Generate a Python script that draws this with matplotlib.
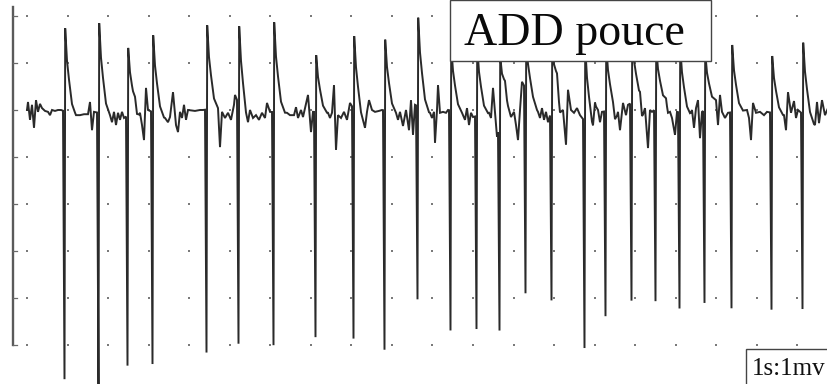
import numpy as np
import matplotlib
matplotlib.use("Agg")
import matplotlib.pyplot as plt
from matplotlib.patches import Rectangle

# ---- data (time in ms, amplitude in mV) ----
spike_t = [37, 71, 100, 125, 179, 211, 246, 288, 326, 357, 390, 423, 449,
           472, 498, 524, 557, 578, 604, 628, 652, 677, 704, 744, 775]
spike_peak = [1.77, 1.91, 1.43, 1.64, 1.79, 1.68, 1.91, 1.21, 1.57, 1.51,
              1.89, 1.38, 1.50, 1.40, 1.00, 1.30, 1.60, 1.40, 1.40, 1.30,
              1.40, 1.20, 1.43, 1.21, 1.53]
spike_trough = [-5.70, -5.85, -5.32, -5.36, -5.17, -5.11, -4.96, -4.79, -4.89,
                -5.09, -4.11, -4.68, -4.53, -4.36, -4.36, -4.04, -4.83, -4.36,
                -4.21, -4.09, -4.17, -4.11, -4.17, -4.19, -4.15]
# spike waveform shape: time offsets (ms) for start, trough, peak, tail points;
# tail as fraction of peak
shape_dt = [-1.0, 0.5, 1.2, 3.0, 5.0, 8.0, 12.0]
shape_tail = [0.62, 0.40, 0.12, 0.0]

noise_t = [0, 1, 3, 5, 7, 9, 11, 13, 15, 18, 21, 23, 25, 28, 31, 34,
           48, 53, 57, 61, 63, 65, 67,
           83, 85, 87, 89, 91, 93, 95, 97,
           106, 108, 110, 113, 115, 117, 119, 121,
           138, 141, 143, 146, 149, 151, 153, 155, 157, 159, 161, 168, 173, 176,
           191, 193, 195, 198, 201, 204, 207, 208,
           221, 223, 226, 229, 232, 235, 238, 240, 243,
           260, 263, 267, 269, 271, 274, 276, 279, 281, 284, 286,
           301, 303, 305, 307, 309, 311, 314, 317, 320, 323,
           338, 340, 342, 345, 348, 352, 355,
           369, 371, 373, 376, 379, 382, 384, 386, 388,
           403, 405, 407, 408, 410, 411, 413, 416, 419, 421,
           435, 438, 440, 442, 444, 446,
           462, 464, 466, 468, 470,
           478, 481, 484, 487, 489, 491, 493, 495,
           511, 513, 515, 517, 519, 521,
           530, 533, 536, 539, 541, 544, 547, 550, 553,
           566, 568, 571, 573, 575,
           586, 588, 591, 593, 596, 599, 601,
           613, 615, 618, 621, 623, 625,
           639, 641, 643, 645, 648, 650,
           663, 665, 667, 669, 671, 673, 675,
           689, 691, 693, 695, 698, 701,
           720, 722, 724, 726, 729, 733, 737, 740,
           757, 759, 761, 764, 767, 769, 771,
           788, 790, 792, 795, 798, 801]
noise_a = [0, 0.17, -0.21, 0.11, -0.38, 0.21, -0.04, 0.13, 0.04, -0.02, -0.04, -0.11, 0, -0.02, 0, 0,
           -0.11, -0.11, -0.09, -0.09, 0.17, -0.43, -0.04,
           -0.11, -0.26, -0.04, -0.32, -0.06, -0.21, -0.04, -0.17,
           -0.04, 0.11, -0.17, -0.06, -0.32, -0.64, 0.47, 0,
           -0.17, -0.26, -0.15, 0.38, -0.32, -0.47, -0.04, -0.17, 0.11, -0.21, 0, -0.02, 0, 0,
           0.04, -0.79, -0.04, -0.17, -0.06, -0.21, 0.11, 0.32,
           -0.36, 0, -0.17, -0.11, -0.21, -0.06, -0.17, 0.15, -0.04,
           -0.06, -0.11, -0.11, 0.06, -0.17, 0, -0.15, 0.13, 0.32, -0.47, -0.04,
           -0.06, -0.17, -0.06, 0.53, -0.85, -0.11, -0.17, -0.04, -0.21, 0.15,
           -0.38, -0.04, 0.21, 0, -0.04, -0.02, 0,
           -0.06, -0.21, -0.04, -0.34, 0, -0.43, 0.21, -0.53, 0.11,
           -0.06, -0.17, -0.04, -0.70, 0, 0.53, -0.06, -0.04, -0.06, 0,
           -0.06, -0.21, 0.04, -0.32, -0.06, -0.15,
           -0.06, -0.17, 0.47, -0.04, -0.57,
           0.19, -0.04, -0.15, -0.04, -0.32, -0.64, 0, 0.60,
           -0.04, -0.17, 0.04, -0.21, -0.04, -0.26,
           0.38, -0.17, 0, -0.74, 0.43, 0, -0.06, 0.04, -0.11,
           -0.47, 0.11, 0, -0.26, -0.04,
           0, -0.28, -0.04, -0.43, 0.15, -0.11, 0.11,
           0.26, -0.17, 0.04, -0.81, 0, -0.04,
           0.21, -0.06, -0.04, -0.17, -0.53, -0.04,
           -0.11, 0, -0.38, 0.04, 0.21, -0.60, -0.04,
           0.21, -0.32, 0.32, -0.04, -0.17, -0.06,
           0, -0.17, -0.64, 0.15, -0.06, -0.04, -0.11, -0.04,
           -0.11, -0.43, 0.38, -0.06, 0.19, -0.17, 0,
           -0.32, 0.17, -0.28, 0.21, -0.11, 0.04]

grid_rows = [2, 1, 0, -1, -2, -3, -4, -5]
label_main = "ADD pouce"
label_scale = "1s:1mv"

# ---- build trace ----
dt = np.array(shape_dt, dtype=float)
pts = set(noise_t)
for t in spike_t:
    pts.update((t + dt).tolist())
tt = np.array(sorted(pts))
tt = tt[(tt >= noise_t[0]) & (tt <= noise_t[-1])]
yy = np.interp(tt, noise_t, noise_a)
for t, p, tr in zip(spike_t, spike_peak, spike_trough):
    amp = [0, tr, p] + [f * p for f in shape_tail]
    yy = yy + np.interp(tt, t + dt, amp, left=0, right=0)

# ---- figure ----
fig = plt.figure(figsize=(8.28, 3.84), dpi=100)
ax = fig.add_axes([0, 0, 1, 1])
ax.set_xlim(-27, 801)
ax.set_ylim(-5.83, 2.34)
ax.axis("off")

# grid dots
step = 40.55
gx = np.arange(20) * step
GX, GY = np.meshgrid(gx, grid_rows)
ax.scatter(GX.ravel(), GY.ravel(), s=2.5, color="#7a7a7a", marker="s",
           linewidths=0, zorder=1)

# left amplitude axis with ticks
ax.plot([-14, -14], [2.19, -5.0], color="#5a5a5a", lw=1.7, zorder=2)
for r in grid_rows:
    ax.plot([-14, -10], [r, r], color="#6a6a6a", lw=0.9, zorder=2)

# trace
ax.plot(tt, yy, color="#2a2a2a", lw=1.4, solid_joinstyle="miter", zorder=3)

# label boxes
ax.add_patch(Rectangle((423, 1.04), 261, 1.30, facecolor="white",
                       edgecolor="#444444", lw=1.0, zorder=4))
ax.text(437, 1.38, label_main, family="Liberation Serif", fontsize=33,
        ha="left", va="baseline", color="#0a0a0a", zorder=5)
ax.add_patch(Rectangle((719, -6.2), 120, 1.11, facecolor="white",
                       edgecolor="#444444", lw=1.0, zorder=4))
ax.text(725, -5.64, label_scale, family="Liberation Serif", fontsize=18,
        ha="left", va="baseline", color="#111111", zorder=5)

fig.savefig("out.png", dpi=100)
